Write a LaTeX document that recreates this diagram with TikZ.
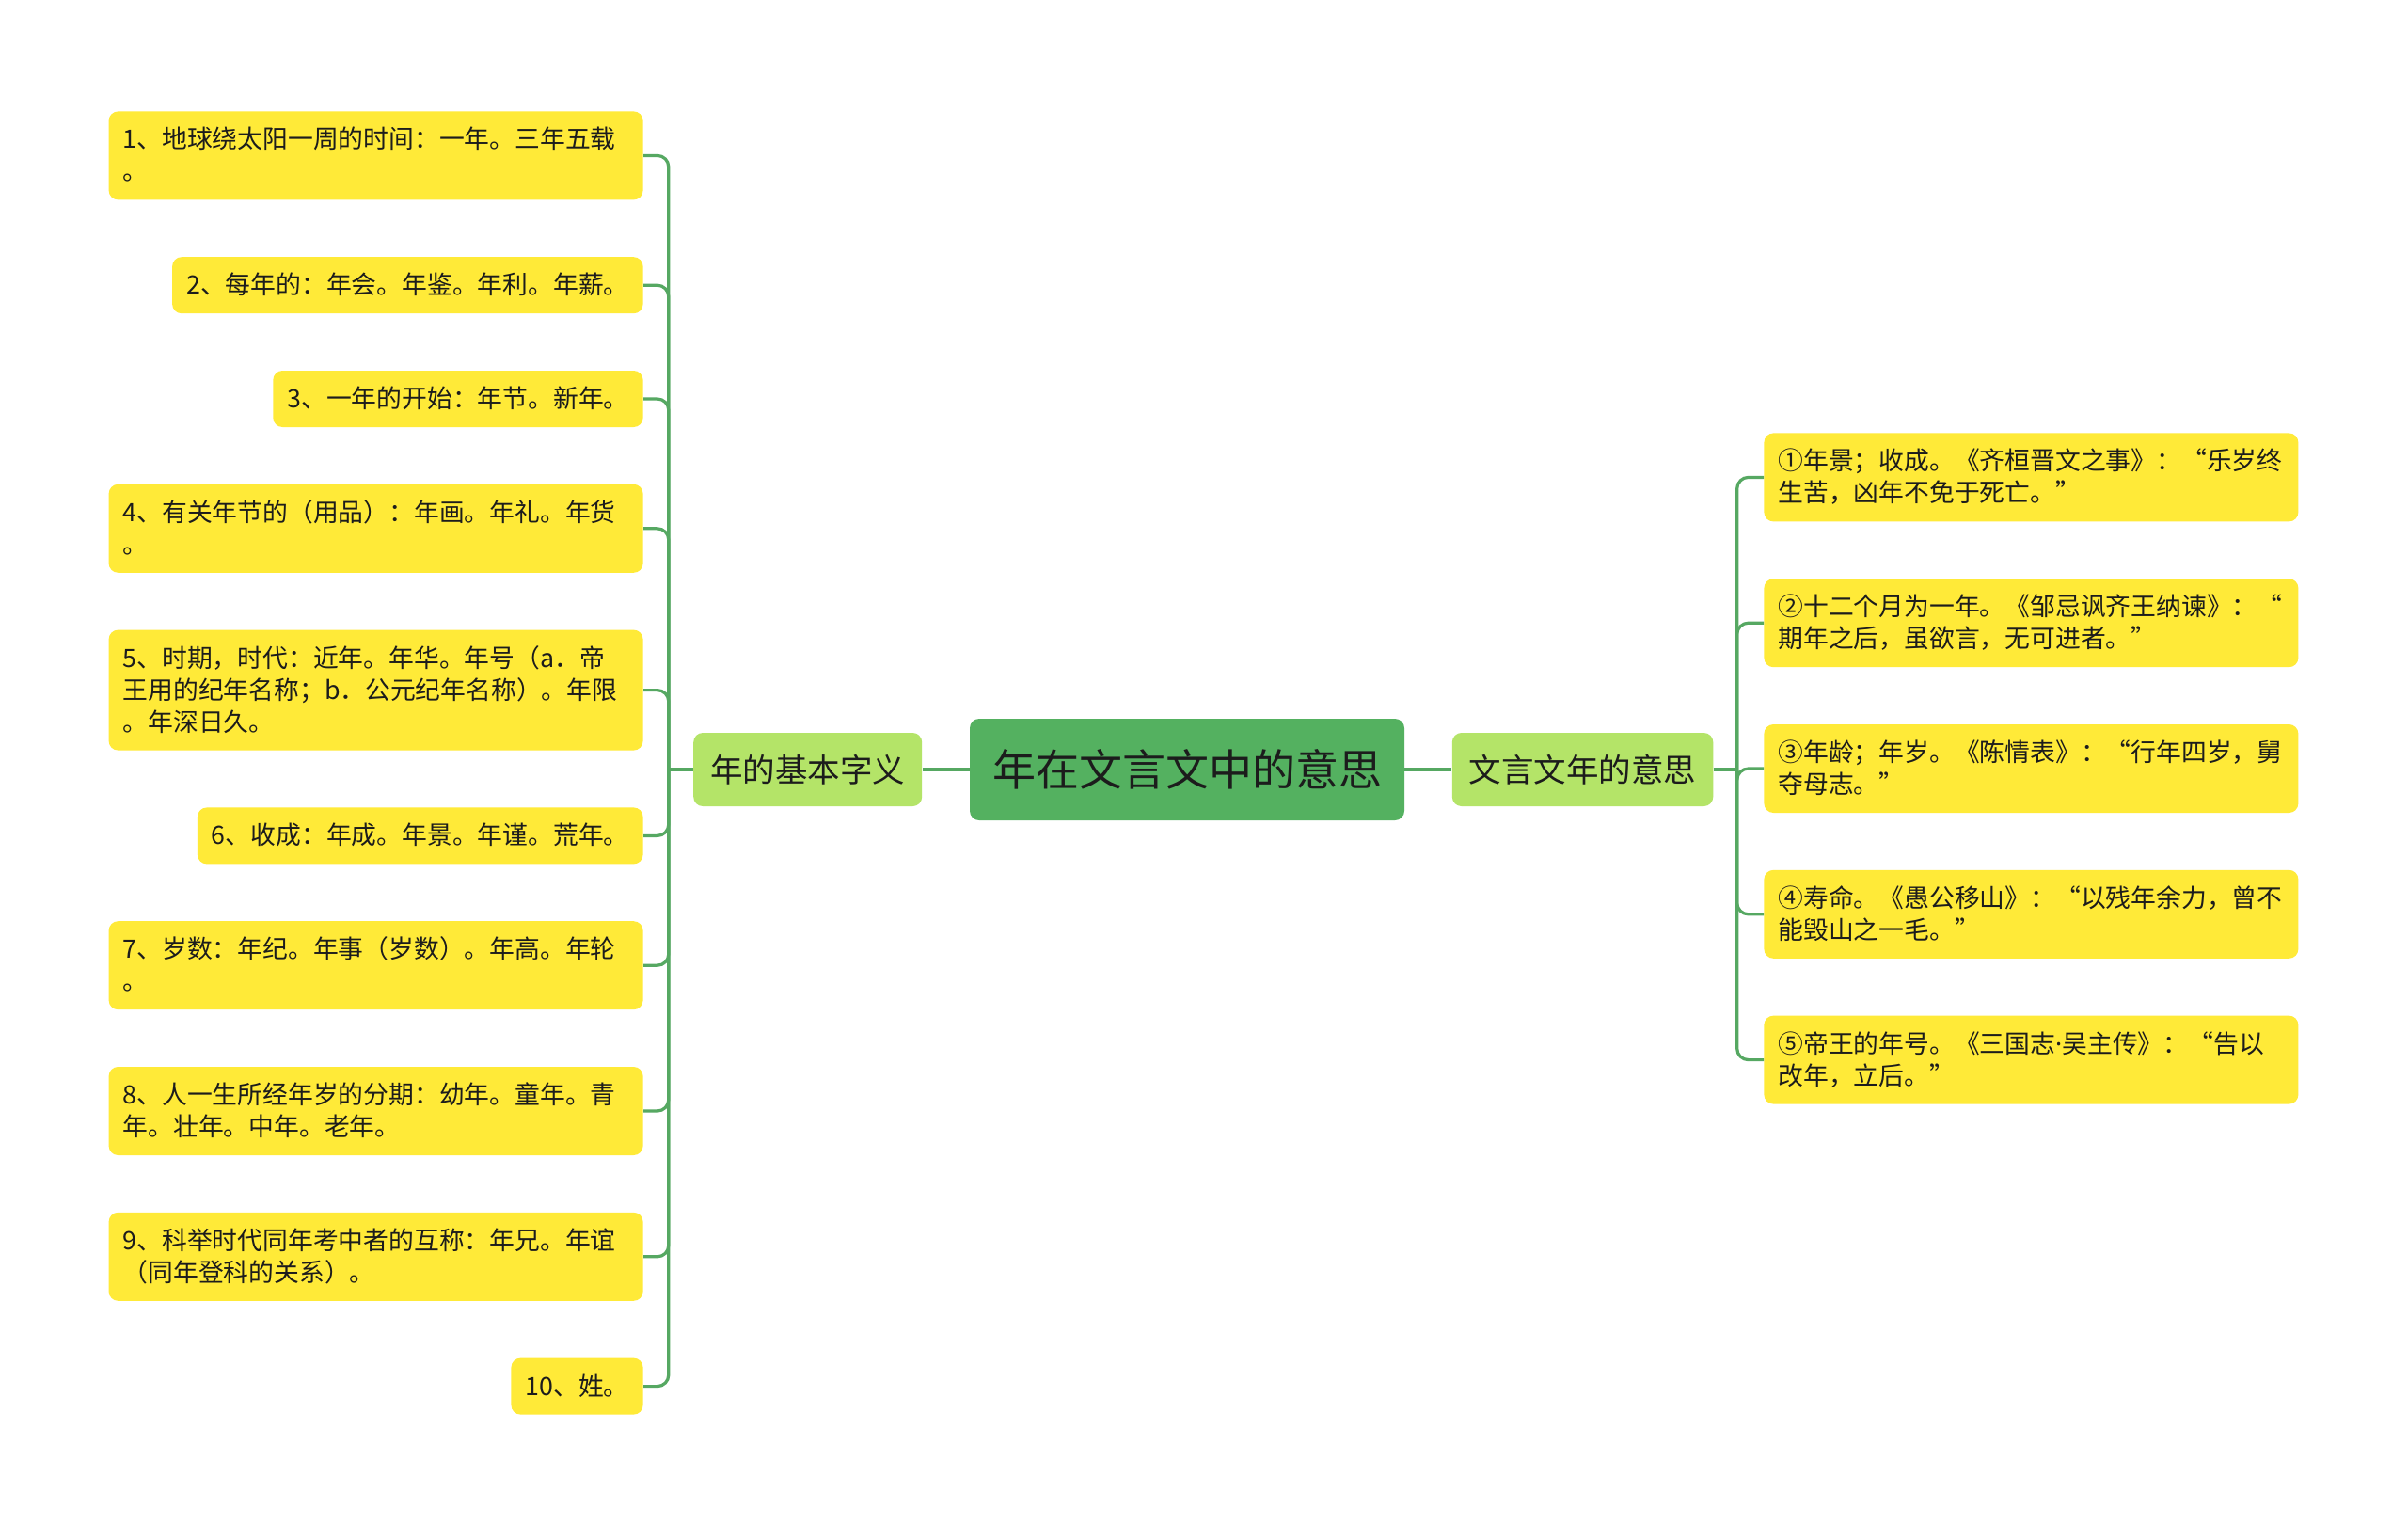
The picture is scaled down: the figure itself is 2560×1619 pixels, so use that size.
\documentclass[tikz,border=0pt]{standalone}
\usepackage{fontspec}
\setmainfont{Noto Sans CJK SC}
\newfontfamily\latinfont{Noto Sans}
\usepackage{xcolor}
\usepackage{tikz}
\usetikzlibrary{positioning,calc}
\definecolor{mmgreen}{RGB}{84,177,96}
\definecolor{mmlime}{RGB}{180,228,104}
\definecolor{mmyellow}{RGB}{255,234,56}
\definecolor{mmline}{RGB}{86,168,98}
\definecolor{mmtext}{RGB}{28,28,28}
\newcommand\leafstrut{\rule[-3.8pt]{0pt}{17pt}}

\begin{document}
\begin{tikzpicture}[
  x=0.5pt, y=-0.5pt,
  node distance=30pt,
  box/.style={rounded corners=5pt, text=mmtext, align=left},
  leaf/.style={box, fill=mmyellow, font=\fontsize{13.4}{17}\selectfont,
               inner xsep=7.5pt, inner ysep=6.5pt,
               execute at begin node=\leafstrut, execute at end node=\leafstrut},
  wide/.style={text width=269pt},
  sub/.style={box, fill=mmlime, font=\fontsize{17.25}{20}\selectfont,
              inner xsep=9pt, minimum height=39pt},
  root/.style={box, fill=mmgreen, font=\fontsize{23}{26}\selectfont,
               inner xsep=12pt, minimum height=54pt},
  link/.style={draw=mmline, line width=1.6pt}
]

\useasboundingbox[fill=white] (0,0) rectangle (2560,1619);

\node[root] (root) at (1262,818) {年在文言文中的意思};
\node[sub, left=25pt of root] (basic) {年的基本字义};
\node[sub, right=25pt of root] (usage) {文言文年的意思};

% left branch
\node[leaf, wide, anchor=north east] (b1) at (684,118)
  {1、地球绕太阳一周的时间：一年。三年五载\\。};
\node[leaf, below=of b1.south east, anchor=north east] (b2)
  {2、每年的：年会。年鉴。年利。年薪。};
\node[leaf, below=of b2.south east, anchor=north east] (b3)
  {3、一年的开始：年节。新年。};
\node[leaf, wide, below=of b3.south east, anchor=north east] (b4)
  {4、有关年节的（用品）：年画。年礼。年货\\。};
\node[leaf, wide, below=of b4.south east, anchor=north east] (b5)
  {5、时期，时代：近年。年华。年号（a．帝\\王用的纪年名称；b．公元纪年名称）。年限\\。年深日久。};
\node[leaf, below=of b5.south east, anchor=north east] (b6)
  {6、收成：年成。年景。年谨。荒年。};
\node[leaf, wide, below=of b6.south east, anchor=north east] (b7)
  {7、岁数：年纪。年事（岁数）。年高。年轮\\。};
\node[leaf, wide, below=of b7.south east, anchor=north east] (b8)
  {8、人一生所经年岁的分期：幼年。童年。青\\年。壮年。中年。老年。};
\node[leaf, wide, below=of b8.south east, anchor=north east] (b9)
  {9、科举时代同年考中者的互称：年兄。年谊\\（同年登科的关系）。};
\node[leaf, below=of b9.south east, anchor=north east] (b10)
  {10、姓。};

% right branch
\node[leaf, wide, anchor=north west] (u1) at (1875,460)
  {①年景；收成。《齐桓晋文之事》：“乐岁终\\生苦，凶年不免于死亡。”};
\node[leaf, wide, below=of u1.south west, anchor=north west] (u2)
  {②十二个月为一年。《邹忌讽齐王纳谏》：“\\期年之后，虽欲言，无可进者。”};
\node[leaf, wide, below=of u2.south west, anchor=north west] (u3)
  {③年龄；年岁。《陈情表》：“行年四岁，舅\\夺母志。”};
\node[leaf, wide, below=of u3.south west, anchor=north west] (u4)
  {④寿命。《愚公移山》：“以残年余力，曾不\\能毁山之一毛。”};
\node[leaf, wide, below=of u4.south west, anchor=north west] (u5)
  {⑤帝王的年号。《三国志{\latinfont ·}吴主传》：“告以\\改年，立后。”};

\coordinate[left=13pt of basic.west] (bspine);
\coordinate[right=12.5pt of usage.east] (uspine);

\draw[link] (root) -- (basic);
\draw[link] (root) -- (usage);
\draw[link] (basic) -- (bspine);
\draw[link] (usage) -- (uspine);
\foreach \i in {1,...,10}
  \draw[link, rounded corners=6pt] (bspine) |- (b\i.east);
\foreach \i in {1,...,5}
  \draw[link, rounded corners=6pt] (uspine) |- (u\i.west);

\end{tikzpicture}
\end{document}
